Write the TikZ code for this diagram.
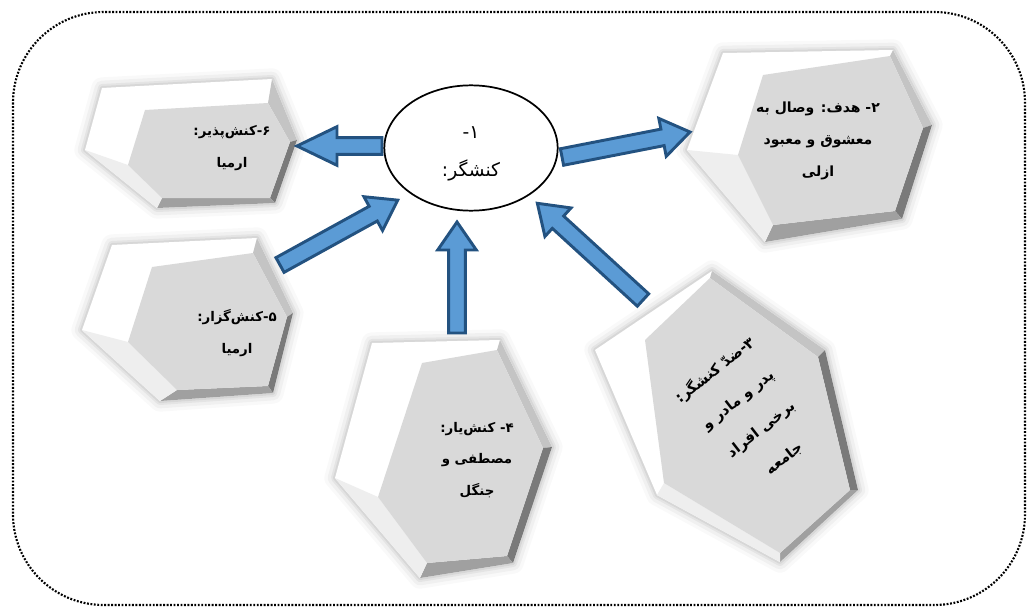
\documentclass[tikz,border=0pt]{standalone}
\usepackage{fontspec}
\newfontfamily\arabicfont[Script=Arabic]{DejaVu Sans}
\TeXXeTstate=1
\usetikzlibrary{calc,shapes.geometric}

\definecolor{facegray}{RGB}{217,217,217}
\definecolor{bevellight}{RGB}{196,196,196}
\definecolor{beveldark}{RGB}{122,122,122}
\definecolor{bevelmid}{RGB}{160,160,160}
\definecolor{sideshade}{RGB}{238,238,238}
\definecolor{arrowfill}{RGB}{91,155,213}
\definecolor{arrowedge}{RGB}{35,82,128}

% right-to-left line
\newcommand\rl[1]{\beginR #1\endR}

% bevelled hexagon: name, outer x/y list, face x/y list
\newcommand\prism[3]{%
  \foreach \x/\y [count=\i] in {#2} {\coordinate (#1-o\i) at (\x,\y);}
  \foreach \x/\y [count=\i] in {#3} {\coordinate (#1-f\i) at (\x,\y);}
  % soft shadow round the block
  \foreach \w/\o in {16/0.025,11/0.035,6/0.05,3/0.06}
    \draw[line width=\w pt,black,opacity=\o,line join=round,xshift=1pt,yshift=-1.5pt]
      (#1-o1) -- (#1-o2) -- (#1-o3) -- (#1-o4) -- (#1-o5) -- (#1-o6) -- cycle;
  \fill[white] (#1-o1) -- (#1-o2) -- (#1-o3) -- (#1-o4) -- (#1-o5) -- (#1-o6) -- cycle;
  \fill[bevellight] (#1-f2) -- (#1-f3) -- (#1-o3) -- (#1-o2) -- cycle;
  \fill[beveldark] (#1-f3) -- (#1-f4) -- (#1-o4) -- (#1-o3) -- cycle;
  \fill[bevelmid] (#1-f4) -- (#1-f5) -- (#1-o5) -- (#1-o4) -- cycle;
  \fill[sideshade] (#1-f5) -- (#1-f6) -- (#1-o6) -- (#1-o5) -- cycle;
  \fill[facegray] (#1-f1) -- (#1-f2) -- (#1-f3) -- (#1-f4) -- (#1-f5) -- (#1-f6) -- cycle;
}

% block arrow from #2 to #3, head length #1
\newcommand\blockarrow[3][21pt]{%
  \filldraw[fatarrow] let \p1=(#2), \p2=(#3),
      \n1={atan2(\y2-\y1,\x2-\x1)}, \n2={veclen(\x2-\x1,\y2-\y1)} in
    [shift={(\p1)}, rotate=\n1]
    (0pt,-6.3pt) -- ({\n2-#1},-6.3pt) -- ({\n2-#1},-14.5pt) -- ({\n2},0pt)
    -- ({\n2-#1},14.5pt) -- ({\n2-#1},6.3pt) -- (0pt,6.3pt) -- cycle;
}

\begin{document}
\begin{tikzpicture}[x=0.75pt,y=-0.75pt,
  fatarrow/.style={fill=arrowfill,draw=arrowedge,line width=2.2pt,line join=miter},
  frame/.style={draw,line width=1.6pt,dash pattern=on 1.4pt off 1.2pt,rounded corners=68pt},
  label/.style={font=\arabicfont\bfseries\fontsize{10}{23.5}\selectfont,align=center,inner sep=0pt},
  subjectnode/.style={ellipse,draw,line width=1.3pt,fill=white,minimum width=130pt,
    minimum height=94pt,inner sep=0pt},
  subjecttext/.style={font=\arabicfont\fontsize{14}{28.5}\selectfont,align=center,inner sep=0pt}]
\useasboundingbox (0,0) rectangle (1030,613);
\draw[frame] (13,12) rectangle (1025,605);

% the five actants round the subject
\prism{recvbox}{102/88,272/79,297/140,275/203,157/208,85/150}
  {145/110,268/103,290/142,270/198,162/198,128/165}
\prism{objbox}{723/53,893/50,932/125,902/219,765/242,687/150}
  {763/75,890/56,923/128,895/211,773/225,738/155}
\prism{sendbox}{112/245,257/238,293/313,273/393,160/401,82/330}
  {152/267,253/253,287/317,268/386,177/390,128/342}
\prism{helpbox}{372/343,500/340,552/447,513/563,420/578,335/478}
  {422/363,497/350,543/448,507/556,427/563,378/497}
\prism{oppbox}{595/350,712/271,825/350,858/490,780/562,657/495}
  {645/340,710/278,818/357,850/490,780/553,664/483}

\node[label] (receiver) at (232,148) {\rl{۶-کنش‌پذیر:}\\\rl{ارمیا}};
\node[label,font=\arabicfont\bfseries\fontsize{10.5}{24}\selectfont] (object) at (818,141)
  {\rl{۲- هدف: وصال به}\\\rl{معشوق و معبود}\\\rl{ازلی}};
\node[label] (sender) at (237,333) {\rl{۵-کنش‌گزار:}\\\rl{ارمیا}};
\node[label] (helper) at (477,460) {\rl{۴- کنش‌یار:}\\\rl{مصطفی و}\\\rl{جنگل}};
\node[label,rotate=38,font=\arabicfont\bfseries\fontsize{11}{28}\selectfont] (opponent) at (749,414)
  {\rl{۳-ضدّ کنشگر:}\\\rl{پدر و مادر و}\\\rl{برخی افراد}\\\rl{جامعه}};

% arrow ends
\coordinate (recvTail) at (382,146);
\coordinate (recvTip) at (297,146);
\coordinate (objTail) at (562,157);
\coordinate (objTip) at (690,132);
\coordinate (sendTail) at (280,265);
\coordinate (sendTip) at (398,200);
\coordinate (helpTail) at (457,333);
\coordinate (helpTip) at (457,222);
\coordinate (oppTail) at (643,300);
\coordinate (oppTip) at (537,203);

\blockarrow[30pt]{recvTail}{recvTip}
\blockarrow{objTail}{objTip}
\blockarrow{sendTail}{sendTip}
\blockarrow{helpTail}{helpTip}
\blockarrow{oppTail}{oppTip}

\node[subjectnode] (subject) at (471,148) {};
\node[subjecttext] (subjectname) at (471,154) {\rl{۱-}\\\rl{کنشگر:}};
\end{tikzpicture}
\end{document}
